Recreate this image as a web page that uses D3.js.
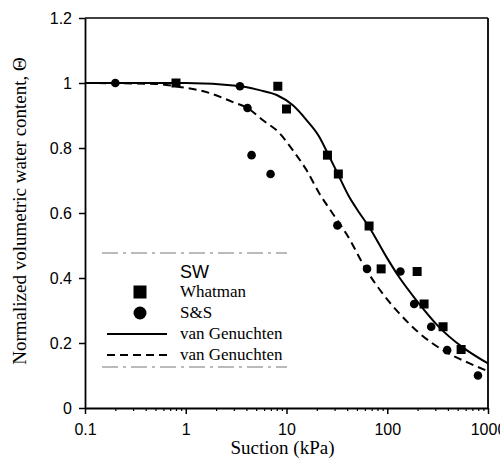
<!DOCTYPE html>
<head>
  <meta charset="utf-8">
  <script src="https://d3js.org/d3.v7.min.js"></script>
  <style>
    body { margin:0; background:#fff; }
  </style>
</head>
<body>
<script>
  var width = 500, height = 459;
  var margin = {top: 18, right: 12, bottom: 51, left: 85};
  var w = width - margin.left - margin.right;
  var h = height - margin.top - margin.bottom;

  // measured points, suction (kPa) and normalized water content
  var whatmanSuction = [0.8, 8.2, 10, 25.5, 32.7, 66, 87, 198, 232, 358, 541];
  var whatmanTheta   = [1.0, 0.99, 0.92, 0.778, 0.72, 0.56, 0.428, 0.42, 0.32, 0.25, 0.18];
  var ssSuction = [0.2, 3.45, 4.1, 4.5, 6.95, 32, 63, 135, 185, 273, 393, 795];
  var ssTheta   = [1.0, 0.99, 0.923, 0.778, 0.72, 0.562, 0.428, 0.42, 0.32, 0.25, 0.178, 0.10];

  // fitted curves
  var vgSolidSuction = [0.1, 1, 3.4, 5.4, 8, 11.5, 15.8, 21.2, 25.5, 32, 42, 53, 66, 98, 131, 194, 327, 553, 1000];
  var vgSolidTheta   = [1.0, 1.0, 0.991, 0.978, 0.963, 0.932, 0.886, 0.834, 0.785, 0.723, 0.649, 0.60, 0.557, 0.465, 0.403, 0.332, 0.249, 0.188, 0.137];
  var vgDashSuction = [0.1, 0.5, 0.87, 1.73, 2.9, 4.1, 5.8, 8.5, 11.5, 15.8, 21.2, 28.5, 40, 62, 89, 131, 207, 384, 649, 1000];
  var vgDashTheta   = [1.0, 0.997, 0.988, 0.969, 0.942, 0.923, 0.886, 0.846, 0.794, 0.732, 0.66, 0.60, 0.532, 0.425, 0.354, 0.292, 0.231, 0.172, 0.138, 0.113];

  var xTickValues = [0.1, 1, 10, 100, 1000];
  var xTickLabels = ["0.1", "1", "10", "100", "1000"];
  var yTickValues = [0, 0.2, 0.4, 0.6, 0.8, 1, 1.2];
  var yTickLabels = ["0", "0.2", "0.4", "0.6", "0.8", "1", "1.2"];

  var legendTitle = "SW";
  var legendLabels = ["Whatman", "S&S", "van Genuchten", "van Genuchten"];
  var legendKinds = ["square", "circle", "solid", "dashed"];

  var svg = d3.select("body").append("svg")
    .attr("width", width)
    .attr("height", height);

  var g = svg.append("g")
    .attr("transform", "translate(" + margin.left + "," + margin.top + ")");

  var x = d3.scaleLog().domain([0.1, 1000]).range([0, w]);
  var y = d3.scaleLinear().domain([0, 1.2]).range([h, 0]);

  // minor ticks 2..9 per decade
  var minor = [];
  xTickValues.slice(0, -1).forEach(function(d) {
    for (var k = 2; k < 10; k++) minor.push(d * k);
  });

  g.append("g")
    .attr("transform", "translate(0," + h + ")")
    .call(d3.axisBottom(x).tickValues(minor).tickSize(3).tickFormat(""))
    .call(function(s) { s.select(".domain").remove(); s.selectAll("line").attr("stroke-width", 1.2); });

  var xAxis = g.append("g")
    .attr("class", "xaxis")
    .attr("transform", "translate(0," + h + ")")
    .call(d3.axisBottom(x).tickValues(xTickValues).tickSize(6).tickSizeOuter(0).tickPadding(10)
      .tickFormat(function(d, i) { return xTickLabels[i]; }));

  var yAxis = g.append("g")
    .attr("class", "yaxis")
    .call(d3.axisLeft(y).tickValues(yTickValues).tickSize(6).tickSizeOuter(0).tickPadding(7)
      .tickFormat(function(d, i) { return yTickLabels[i]; }));

  [xAxis, yAxis].forEach(function(a) {
    a.select(".domain").attr("stroke-width", 1.8);
    a.selectAll(".tick line").attr("stroke-width", 1.5);
    a.selectAll("text")
      .attr("font-family", "'Liberation Sans', Arial, sans-serif")
      .attr("font-size", 16)
      .attr("fill", "#000");
  });

  // frame top and right
  g.append("line").attr("x1", 0).attr("x2", w).attr("y1", 0).attr("y2", 0)
    .attr("stroke", "#000").attr("stroke-width", 1.5);
  g.append("line").attr("x1", w).attr("x2", w).attr("y1", 0).attr("y2", h)
    .attr("stroke", "#000").attr("stroke-width", 1.8);

  // axis titles
  svg.append("text")
    .attr("x", margin.left + w / 2 - 4)
    .attr("y", 454)
    .attr("text-anchor", "middle")
    .attr("font-family", "'Liberation Serif', 'Times New Roman', serif")
    .attr("font-size", 19)
    .text("Suction (kPa)");

  svg.append("text")
    .attr("transform", "translate(26," + (margin.top + h / 2 - 2) + ") rotate(-90)")
    .attr("text-anchor", "middle")
    .attr("font-family", "'Liberation Serif', 'Times New Roman', serif")
    .attr("font-size", 19)
    .text("Normalized volumetric water content, \u0398");

  g.append("clipPath").attr("id", "clip")
    .append("rect").attr("width", w).attr("height", h);

  var line = d3.line()
    .x(function(d) { return x(d[0]); })
    .y(function(d) { return y(d[1]); })
    .curve(d3.curveMonotoneX);

  var solidData = d3.zip(vgSolidSuction, vgSolidTheta);
  var dashData = d3.zip(vgDashSuction, vgDashTheta);

  var curves = g.append("g").attr("clip-path", "url(#clip)");
  curves.append("path").datum(solidData)
    .attr("d", line).attr("fill", "none")
    .attr("stroke", "#000").attr("stroke-width", 2);
  curves.append("path").datum(dashData)
    .attr("d", line).attr("fill", "none")
    .attr("stroke", "#000").attr("stroke-width", 2)
    .attr("stroke-dasharray", "8,5");

  var sq = 9;
  g.selectAll(".sq").data(d3.zip(whatmanSuction, whatmanTheta)).enter()
    .append("rect").attr("class", "sq")
    .attr("x", function(d) { return x(d[0]) - sq / 2; })
    .attr("y", function(d) { return y(d[1]) - sq / 2; })
    .attr("width", sq).attr("height", sq)
    .attr("fill", "#000");

  g.selectAll(".dot").data(d3.zip(ssSuction, ssTheta)).enter()
    .append("circle").attr("class", "dot")
    .attr("cx", function(d) { return x(d[0]); })
    .attr("cy", function(d) { return y(d[1]); })
    .attr("r", 4.3)
    .attr("fill", "#000");

  // legend
  var lg = svg.append("g").attr("class", "legend");
  var lgLeft = 102, lgRight = 287, lgTop = 253, lgBottom = 367;
  [lgTop, lgBottom].forEach(function(yy) {
    lg.append("line")
      .attr("x1", lgLeft).attr("x2", lgRight).attr("y1", yy).attr("y2", yy)
      .attr("stroke", "#777").attr("stroke-width", 1.1)
      .attr("stroke-dasharray", "16,5,3,5");
  });

  lg.append("text")
    .attr("x", 180).attr("y", 278)
    .attr("font-family", "'Liberation Sans', Arial, sans-serif")
    .attr("font-size", 18)
    .text(legendTitle);

  var rowY = d3.scalePoint().domain(d3.range(legendLabels.length)).range([292, 355]);

  legendLabels.forEach(function(lbl, i) {
    var cy = rowY(i);
    var kind = legendKinds[i];
    if (kind === "square") {
      lg.append("rect").attr("x", 140 - 6.5).attr("y", cy - 6.5)
        .attr("width", 13).attr("height", 13).attr("fill", "#000");
    } else if (kind === "circle") {
      lg.append("circle").attr("cx", 140).attr("cy", cy).attr("r", 6.5).attr("fill", "#000");
    } else {
      lg.append("line").attr("x1", 107).attr("x2", 167).attr("y1", cy).attr("y2", cy)
        .attr("stroke", "#000").attr("stroke-width", 2)
        .attr("stroke-dasharray", kind === "dashed" ? "8,5" : null);
    }
    lg.append("text")
      .attr("x", 180).attr("y", cy + 5)
      .attr("font-family", "'Liberation Serif', 'Times New Roman', serif")
      .attr("font-size", 17)
      .text(lbl);
  });
</script>
</body>
